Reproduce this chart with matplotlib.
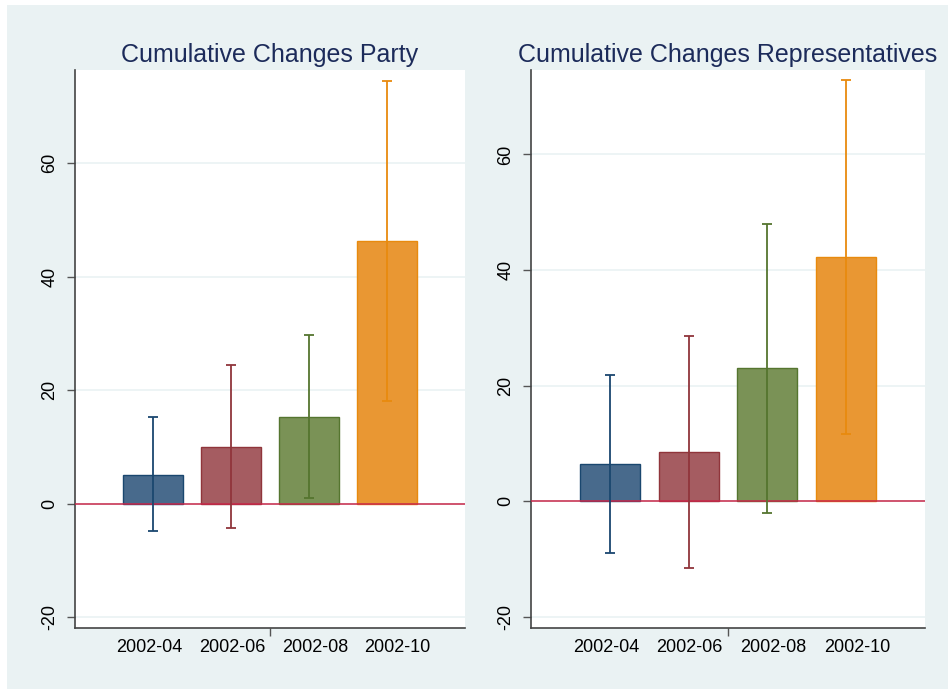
import numpy as np
import matplotlib.pyplot as plt
from matplotlib.patches import Rectangle

plt.rcParams['font.family'] = ['Liberation Sans', 'DejaVu Sans']
plt.rcParams['axes.unicode_minus'] = False

months = ["2002-04", "2002-06", "2002-08", "2002-10"]

# Cumulative Changes Party
party_mean = [5.1, 10.05, 15.3, 46.2]
party_lo = [-4.9, -4.2, 0.95, 18.1]
party_hi = [15.2, 24.4, 29.8, 74.4]

# Cumulative Changes Representatives
rep_mean = [6.45, 8.5, 23.0, 42.2]
rep_lo = [-8.9, -11.6, -2.0, 11.7]
rep_hi = [21.9, 28.6, 48.0, 72.9]

fills = ["#486A8C", "#A55C61", "#7A9256", "#E99733"]
edges = ["#1A476F", "#90353B", "#55752F", "#E88A0E"]
bg = "#EAF2F3"

fig = plt.figure(figsize=(9.48, 6.89), dpi=100)
fig.patch.set_facecolor("white")
fig.patches.append(Rectangle((7 / 948, 0), 1, 1 - 5 / 689, transform=fig.transFigure,
                             facecolor=bg, edgecolor="none", zorder=-10))


def panel(rect, title, mean, lo, hi, ylim):
    ax = fig.add_axes(rect)
    ax.set_facecolor("white")
    x = np.arange(1, len(months) + 1)
    for i in range(len(months)):
        ax.bar(x[i], mean[i], width=0.76, color=fills[i], edgecolor=edges[i],
               linewidth=1.0, zorder=2)
        ax.errorbar(x[i], mean[i], yerr=[[mean[i] - lo[i]], [hi[i] - mean[i]]],
                    fmt="none", ecolor=edges[i], elinewidth=1.3, capsize=3.5,
                    capthick=1.3, zorder=4)
    ax.axhline(0, color="#C8284A", linewidth=1.1, zorder=3)
    ax.set_xlim(0, 5)
    ax.set_ylim(*ylim)
    ax.set_yticks([-20, 0, 20, 40, 60])
    ax.yaxis.grid(True, color=bg, linewidth=1.2, zorder=0)
    ax.set_axisbelow(True)
    # stata spreads the category labels a little wider than the bars
    ax.set_xticks(2.545 + (x - 2.5) * 1.06)
    ax.set_xticklabels(months, fontsize=13)
    ax.tick_params(axis="x", length=0, pad=8)
    ax.set_xticks([2.5], minor=True)
    ax.tick_params(axis="x", which="minor", length=6, width=1, color="#555555")
    ax.tick_params(axis="y", length=6, width=1, color="#555555", labelsize=13, pad=6)
    for lab in ax.get_yticklabels():
        lab.set_rotation(90)
        lab.set_va("center")
    for s in ["top", "right"]:
        ax.spines[s].set_visible(False)
    for s in ["left", "bottom"]:
        ax.spines[s].set_color("#444444")
        ax.spines[s].set_linewidth(1.2)
    ax.set_title(title, fontsize=18, color="#1C2B5A", pad=6)
    return ax


panel([75 / 948, 61 / 689, 390 / 948, 558 / 689], "Cumulative Changes Party",
      party_mean, party_lo, party_hi, (-21.9, 76.4))
panel([531 / 948, 61 / 689, 394 / 948, 558 / 689], "Cumulative Changes Representatives",
      rep_mean, rep_lo, rep_hi, (-21.9, 74.6))

fig.savefig("out.png", dpi=100, facecolor=fig.get_facecolor())
